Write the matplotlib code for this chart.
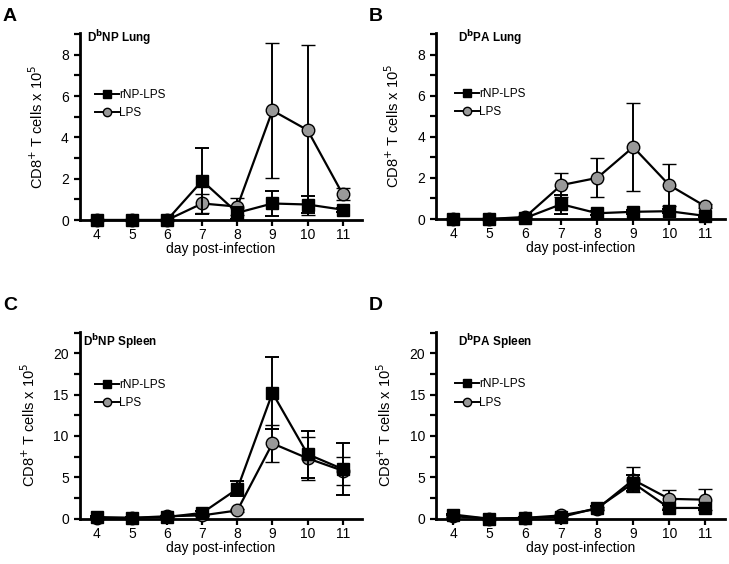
import matplotlib
matplotlib.use("Agg")
import matplotlib.pyplot as plt
from matplotlib.ticker import MultipleLocator
from matplotlib.lines import Line2D

plt.rcParams['font.family'] = ['Liberation Sans', 'DejaVu Sans']

days = [4, 5, 6, 7, 8, 9, 10, 11]

# A: DbNP Lung
a_rnp = [0, 0, 0, 1.9, 0.35, 0.8, 0.75, 0.5]
a_rnp_err = [0, 0, 0, 1.6, 0.3, 0.62, 0.4, 0.1]
a_lps = [0, 0, 0, 0.8, 0.65, 5.3, 4.35, 1.25]
a_lps_err = [0, 0, 0, 0.45, 0.4, 3.28, 4.13, 0.3]

# B: DbPA Lung
b_rnp = [0, 0, 0.05, 0.72, 0.28, 0.35, 0.38, 0.15]
b_rnp_err = [0, 0, 0, 0.47, 0.1, 0.1, 0.1, 0.05]
b_lps = [0, 0, 0.1, 1.65, 2.0, 3.5, 1.65, 0.62]
b_lps_err = [0, 0, 0.05, 0.57, 0.95, 2.15, 1.02, 0.1]

# C: DbNP Spleen
c_rnp = [0.2, 0.1, 0.2, 0.7, 3.6, 15.2, 7.8, 6.0]
c_rnp_err = [0.1, 0.1, 0.1, 0.2, 0.9, 4.35, 2.85, 3.1]
c_lps = [0.1, 0.1, 0.3, 0.4, 1.0, 9.1, 7.3, 5.8]
c_lps_err = [0.05, 0.05, 0.1, 0.1, 0.2, 2.2, 2.6, 1.7]

# D: DbPA Spleen
d_rnp = [0.5, 0.0, 0.1, 0.2, 1.3, 4.3, 1.3, 1.3]
d_rnp_err = [0.1, 0.05, 0.05, 0.1, 0.2, 1.0, 0.3, 0.3]
d_lps = [0.3, 0.0, 0.1, 0.4, 1.2, 4.7, 2.4, 2.3]
d_lps_err = [0.1, 0.05, 0.05, 0.1, 0.2, 1.5, 1.05, 1.25]

panels = [
    ('A', r'D$^{\mathbf{b}}$NP Lung', a_rnp, a_rnp_err, a_lps, a_lps_err),
    ('B', r'D$^{\mathbf{b}}$PA Lung', b_rnp, b_rnp_err, b_lps, b_lps_err),
    ('C', r'D$^{\mathbf{b}}$NP Spleen', c_rnp, c_rnp_err, c_lps, c_lps_err),
    ('D', r'D$^{\mathbf{b}}$PA Spleen', d_rnp, d_rnp_err, d_lps, d_lps_err),
]

# axes boxes in figure fraction: left, bottom, width, height
boxes = [
    [0.1097, 0.6099, 0.3869, 0.3316],
    [0.5981, 0.6117, 0.3964, 0.3298],
    [0.1097, 0.0803, 0.3869, 0.3316],
    [0.5981, 0.0803, 0.3964, 0.3316],
]
title_x = [0.025, 0.076, 0.012, 0.076]
title_y = [0.973, 0.973, 0.947, 0.947]
leg_x = [0.053, 0.066, 0.053, 0.066]
leg_y = [0.62, 0.624, 0.667, 0.67]
letter_pos = [(0.004, 0.97), (0.506, 0.97), (0.004, 0.459), (0.506, 0.459)]

fig = plt.figure(figsize=(7.29, 5.64), dpi=100)

leg_handles = [
    Line2D([], [], color='black', lw=1.4, marker='s', ms=5.5, mfc='black', mec='black'),
    Line2D([], [], color='black', lw=1.4, marker='o', ms=6, mfc='#999999', mec='black', mew=1.0),
]
leg_labels = ['rNP-LPS', 'LPS']

for i, (letter, title, rnp, rnp_err, lps, lps_err) in enumerate(panels):
    ax = fig.add_axes(boxes[i])
    lung = i < 2
    ax.errorbar(days, lps, yerr=lps_err, color='black', lw=1.6, marker='o',
                ms=9, mfc='#999999', mec='black', mew=1.0, capsize=4.7,
                elinewidth=1.4, capthick=1.4, clip_on=False, zorder=3)
    ax.errorbar(days, rnp, yerr=rnp_err, color='black', lw=1.6, marker='s',
                ms=8.5, mfc='black', mec='black', capsize=4.7,
                elinewidth=1.4, capthick=1.4, clip_on=False, zorder=4)

    ax.set_xlim(3.52, 11.55)
    if lung:
        ax.set_ylim(0, 9.05)
        ax.yaxis.set_major_locator(MultipleLocator(2))
        ax.yaxis.set_minor_locator(MultipleLocator(1))
    else:
        ax.set_ylim(0, 22.6)
        ax.yaxis.set_major_locator(MultipleLocator(5))
        ax.yaxis.set_minor_locator(MultipleLocator(2.5))
    ax.set_xticks(days)

    for side in ['top', 'right']:
        ax.spines[side].set_visible(False)
    for side in ['left', 'bottom']:
        ax.spines[side].set_linewidth(2)
    ax.tick_params(axis='both', which='major', width=1.6, labelsize=10)
    ax.tick_params(axis='x', which='major', length=4, pad=2)
    ax.tick_params(axis='y', which='major', length=4.5, pad=3.5)
    ax.tick_params(axis='y', which='minor', width=1.6, length=4)
    ax.tick_params(axis='x', which='minor', length=0)

    ax.set_xlabel('day post-infection', fontsize=10, labelpad=0)
    ax.set_ylabel(r'CD8$^{+}$ T cells x 10$^{5}$', fontsize=10.5, labelpad=11)

    ax.text(title_x[i], title_y[i], title, transform=ax.transAxes,
            fontsize=8.5, fontweight='bold', va='center', ha='left')

    ax.legend(leg_handles, leg_labels, loc='center left',
              bbox_to_anchor=(leg_x[i], leg_y[i]), frameon=False, fontsize=8.5,
              handlelength=2.0, handletextpad=0.05, borderpad=0, borderaxespad=0,
              labelspacing=0.55, numpoints=1)

    fig.text(letter_pos[i][0], letter_pos[i][1], letter, fontsize=14,
             fontweight='bold', va='center', ha='left')

plt.savefig('out.png', dpi=100)
